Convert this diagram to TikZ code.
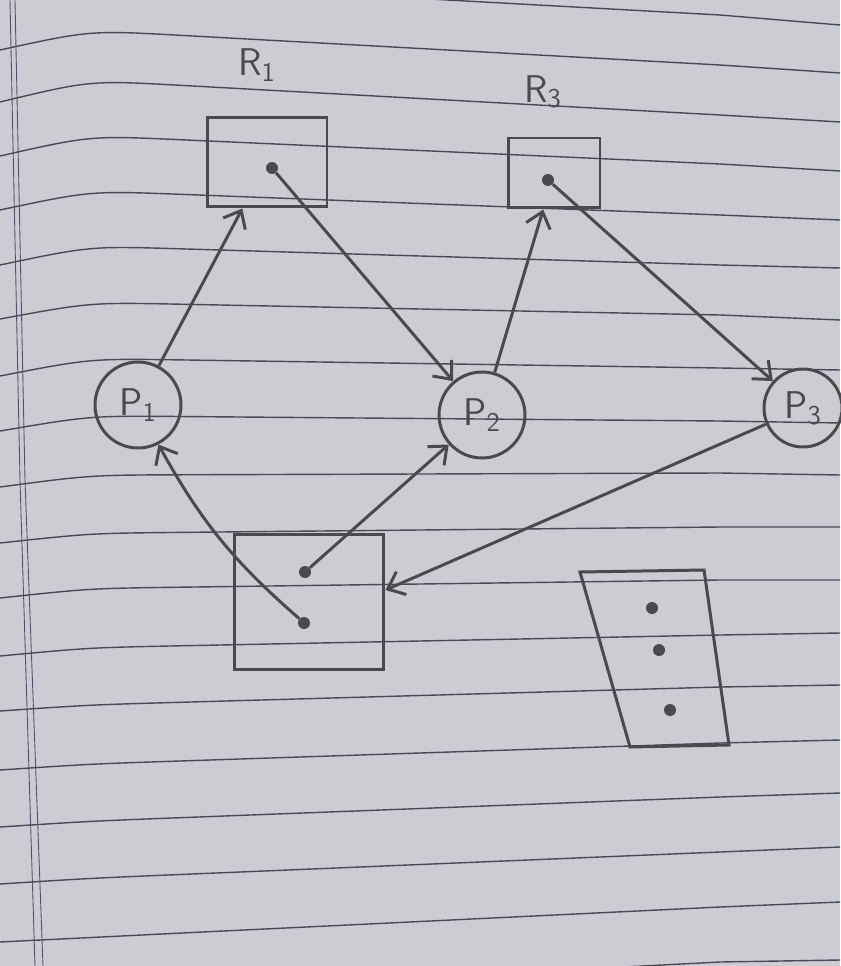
\documentclass[tikz,border=0pt]{standalone}
\usepackage{tikz}
\usetikzlibrary{arrows.meta}
\definecolor{paper}{RGB}{204,205,210}
\definecolor{rule}{RGB}{72,74,88}
\definecolor{margin}{RGB}{88,78,108}
\definecolor{pencil}{RGB}{74,74,76}

\begin{document}
\begin{tikzpicture}[x=0.02cm, y=-0.02cm,
                    pencil/.style={draw=pencil, line width=1.7pt},
                    proc/.style={pencil, circle, minimum size=1.72cm, inner sep=0pt,
                                 text=pencil, font=\sffamily\fontsize{22}{24}\selectfont},
                    res/.style={pencil, rectangle, inner sep=0pt},
                    inst/.style={circle, fill=pencil, minimum size=0.24cm, inner sep=0pt},
                    lbl/.style={text=pencil, font=\sffamily\fontsize{22}{24}\selectfont},
                    edge/.style={pencil, -{Straight Barb[length=3mm, width=5mm]}}]
  \fill[paper] (0,0) rectangle (840,966);
  \useasboundingbox (0,0) rectangle (840,966);
  \begin{scope}
    \clip (0,0) rectangle (840,966);
    \foreach \a/\b/\c/\d in {-2/-18/15/25, 50/32/65/73, 102/82/115/122, 156/137/164/171,
                             210/192/215/220, 265/247/265/268, 319/303/315/320, 376/359/368/370,
                             431/416/421/423, 487/475/473/475, 543/533/527/527, 598/588/580/580,
                             656/647/635/633, 711/704/687/685, 770/763/743/740, 827/820/797/793,
                             884/877/852/847, 942/936/907/902, 1000/993/962/960}
    {
      \pgfmathsetmacro\q{\b-(\c-\b)/20}
      \pgfmathsetmacro\e{\b+(\c-\b)/10}
      \draw[rule, line width=0.8pt] (0,\a) .. controls (90,\q) .. (180,\e) -- (720,\c) -- (840,\d);
    }
    \draw[margin, line width=0.5pt] (10,0) -- (20,480) -- (35,966);
    \draw[margin, line width=0.5pt] (15,0) -- (25,480) -- (43,966);
  \end{scope}

  \node[lbl] (r1l) at (257,65) {R\textsubscript{1}};
  \node[lbl] (r3l) at (543,92) {R\textsubscript{3}};
  \node[res, minimum width=2.4cm, minimum height=1.8cm] (r1) at (267,162) {};
  \node[res, minimum width=1.84cm, minimum height=1.4cm] (r3) at (554,173) {};
  \node[res, minimum width=3cm, minimum height=2.7cm] (r2) at (309,602) {};
  \draw[pencil] (580,572) -- (704,570) -- (729,745) -- (630,747) -- cycle;

  \node[proc] (p1) at (138,405) {P\textsubscript{1}};
  \node[proc] (p2) at (482,415) {P\textsubscript{2}};
  \node[proc, minimum size=1.56cm] (p3) at (803,408) {P\textsubscript{3}};

  \node[inst] (r1d) at (272,168) {};
  \node[inst] (r3d) at (548,180) {};
  \node[inst] (r2a) at (305,572) {};
  \node[inst] (r2b) at (304,623) {};
  \node[inst] (r4a) at (652,608) {};
  \node[inst] (r4b) at (659,650) {};
  \node[inst] (r4c) at (670,710) {};

  \draw[edge] (p1) -- (r1);
  \draw[edge] (r1d) -- (p2);
  \draw[edge] (p2) -- (r3);
  \draw[edge] (r3d) -- (p3);
  \draw[edge] (p3) -- ([yshift=0.24cm]r2.east);
  \draw[edge] (r2a) -- (p2);
  \draw[edge] (r2b) to[bend left=10] (p1);
\end{tikzpicture}
\end{document}
